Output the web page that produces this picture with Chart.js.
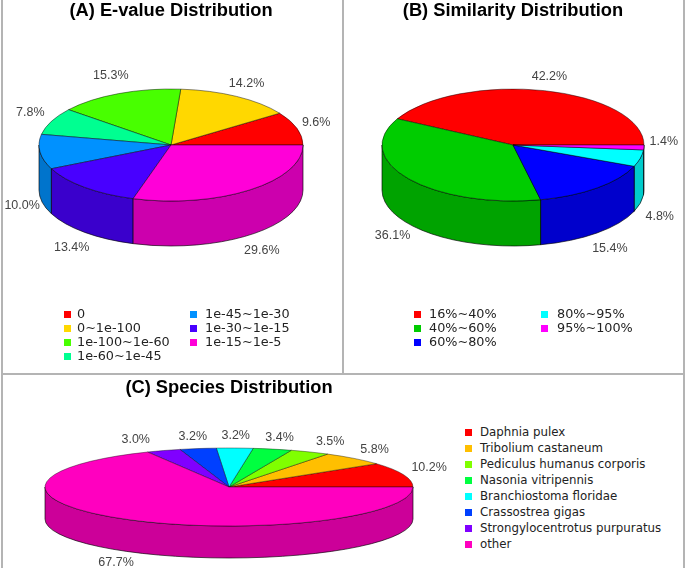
<!DOCTYPE html>
<html>
<head>
<meta charset="utf-8">
<script src="https://cdn.jsdelivr.net/npm/chart.js@4"></script>
<style>
  html, body { margin: 0; padding: 0; background: #fff; }
  #page { position: relative; width: 685px; height: 571px; overflow: hidden; font-family: "DejaVu Sans", sans-serif; }
  canvas { position: absolute; }
  .rule { position: absolute; background: #b4b4b4; }
  .key { position: absolute; white-space: nowrap; color: #222; line-height: 14px; }
  .swatch { position: absolute; width: 7px; height: 7px; }
</style>
</head>
<body>
<div id="page">
  <div class="rule" style="left:1px;top:0;width:2px;height:568px"></div>
  <div class="rule" style="left:342px;top:0;width:2px;height:373px"></div>
  <div class="rule" style="left:1px;top:373px;width:683px;height:2px"></div>
  <div class="rule" style="left:683px;top:0;width:2px;height:568px"></div>
  <canvas id="chartA" width="342" height="373" style="left:0;top:0"></canvas>
  <canvas id="chartB" width="342" height="373" style="left:342px;top:0"></canvas>
  <canvas id="chartC" width="458" height="198" style="left:0;top:373px"></canvas>
</div>
<script>
const evalueLabels = ['0', '0~1e-100', '1e-100~1e-60', '1e-60~1e-45', '1e-45~1e-30', '1e-30~1e-15', '1e-15~1e-5'];
const evalueValues = [9.6, 14.2, 15.3, 7.8, 10.0, 13.4, 29.6];
const evalueColors = ['#ff0000', '#ffd800', '#48ff00', '#00ff91', '#0091ff', '#4800ff', '#ff00d8'];

const similarityLabels = ['16%~40%', '40%~60%', '60%~80%', '80%~95%', '95%~100%'];
const similarityValues = [42.2, 36.1, 15.4, 4.8, 1.4];
const similarityColors = ['#ff0000', '#00cc00', '#0000ff', '#00ffff', '#ff00ff'];

const speciesLabels = ['Daphnia pulex', 'Tribolium castaneum', 'Pediculus humanus corporis', 'Nasonia vitripennis',
  'Branchiostoma floridae', 'Crassostrea gigas', 'Strongylocentrotus purpuratus', 'other'];
const speciesValues = [10.2, 5.8, 3.5, 3.4, 3.2, 3.2, 3.0, 67.7];
const speciesColors = ['#ff0000', '#ffbf00', '#80ff00', '#00ff40', '#00ffff', '#0040ff', '#8000ff', '#ff00bf'];

function darken(hex) {
  const n = parseInt(hex.slice(1), 16);
  const f = c => Math.round(c * 0.8);
  return `rgb(${f(n >> 16)}, ${f((n >> 8) & 255)}, ${f(n & 255)})`;
}

// squashes the flat pie into an ellipse and paints the side walls under it
const pie3d = {
  id: 'pie3d',
  beforeDatasetsDraw(chart, args, opts) {
    const ctx = chart.ctx;
    const arcs = chart.getDatasetMeta(0).data;
    const { cx, cy, ry, depth } = opts;
    const rx = arcs[0].outerRadius;
    const colors = chart.data.datasets[0].backgroundColor;

    // back to front: left side up to the slice at the bottom, then right side inwards
    const bottom = arcs.findIndex(a => a.endAngle > Math.PI * 1.5);
    const order = [];
    for (let i = 0; i < bottom; i++) order.push(i);
    for (let i = arcs.length - 1; i >= bottom; i--) order.push(i);

    ctx.save();
    ctx.lineWidth = 0.8;
    ctx.strokeStyle = 'rgba(0,0,0,0.8)';
    order.forEach(i => {
      const a = arcs[i];
      ctx.fillStyle = darken(colors[i]);
      if (a.startAngle > Math.PI * 1.5) {
        const px = cx + rx * Math.cos(a.startAngle);
        const py = cy - ry * Math.sin(a.startAngle);
        ctx.beginPath();
        ctx.moveTo(cx, cy);
        ctx.lineTo(px, py);
        ctx.lineTo(px, py + depth);
        ctx.lineTo(cx, cy + depth);
        ctx.closePath();
        ctx.fill();
        ctx.stroke();
      }
      const s = Math.max(a.startAngle, Math.PI);
      const e = Math.min(a.endAngle, Math.PI * 2);
      if (e > s) {
        ctx.beginPath();
        ctx.ellipse(cx, cy, rx, ry, 0, -s, -e, true);
        ctx.ellipse(cx, cy + depth, rx, ry, 0, -e, -s, false);
        ctx.closePath();
        ctx.fill();
        ctx.stroke();
      }
    });
    ctx.restore();

    ctx.save();
    ctx.translate(cx, cy);
    ctx.scale(1, -ry / rx);
    ctx.translate(-arcs[0].x, -arcs[0].y);
  },
  afterDatasetsDraw(chart, args, opts) {
    const ctx = chart.ctx;
    ctx.restore();

    const { cx, cy, ry, depth, padX, padY, nudge } = opts;
    const arcs = chart.getDatasetMeta(0).data;
    const values = chart.data.datasets[0].data;
    ctx.save();
    ctx.font = '12.5px "Liberation Sans", sans-serif';
    ctx.fillStyle = '#444';
    ctx.textAlign = 'center';
    ctx.textBaseline = 'middle';
    arcs.forEach((a, i) => {
      const mid = (a.startAngle + a.endAngle) / 2;
      const sin = Math.sin(mid);
      const n = nudge[i] || [0, 0];
      const x = cx + (a.outerRadius + padX) * Math.cos(mid) + n[0];
      const y = cy - (ry + padY) * sin + (sin < -0.1 ? depth : 0) + n[1];
      ctx.fillText(values[i].toFixed(1) + '%', x, y);
    });
    ctx.restore();
  }
};

function makePie(id, title, titleTop, labels, values, colors, rx, shape) {
  return new Chart(document.getElementById(id), {
    type: 'pie',
    plugins: [pie3d],
    data: {
      labels: labels,
      datasets: [{
        data: values,
        backgroundColor: colors,
        borderColor: 'rgba(0,0,0,0.8)',
        borderWidth: 0.8,
        radius: rx,
        clip: false
      }]
    },
    options: {
      responsive: false,
      animation: false,
      rotation: 90,
      plugins: {
        legend: { display: false },
        tooltip: { enabled: false },
        title: {
          display: true,
          text: title,
          color: '#000',
          font: { family: '"Liberation Sans", sans-serif', size: 18.3, weight: 'bold' },
          padding: { top: titleTop, bottom: 0 }
        },
        pie3d: shape
      }
    }
  });
}

makePie('chartA', '(A) E-value Distribution', 0, evalueLabels, evalueValues, evalueColors, 132,
  { cx: 171, cy: 145, ry: 56, depth: 45, padX: 20, padY: 20, nudge: { 1: [0, 4], 3: [-3, 0], 4: [2, 6] } });
makePie('chartB', '(B) Similarity Distribution', 0, similarityLabels, similarityValues, similarityColors, 131,
  { cx: 171, cy: 145, ry: 56, depth: 45, padX: 20, padY: 20, nudge: { 0: [0, 5], 3: [0, 9], 4: [0, -7] } });
makePie('chartC', '(C) Species Distribution', 4, speciesLabels, speciesValues, speciesColors, 184,
  { cx: 229, cy: 114, ry: 39, depth: 32, padX: 30, padY: 12, nudge: { 0: [-3, -3], 2: [7, 0], 6: [-17, 0] } });

// legends sit in columns, which the built in legend cannot do here
function addLegend(labels, colors, swatchX, textX, top, step, perColumn, fontSize) {
  const page = document.getElementById('page');
  labels.forEach((label, i) => {
    const col = Math.floor(i / perColumn);
    const y = top + (i % perColumn) * step;
    const sw = document.createElement('div');
    sw.className = 'swatch';
    sw.style.cssText = `left:${swatchX[col]}px;top:${y - 3}px;background:${colors[i]}`;
    page.appendChild(sw);
    const key = document.createElement('div');
    key.className = 'key';
    key.textContent = label;
    key.style.cssText = `left:${textX[col]}px;top:${y - 7}px;font-size:${fontSize}px`;
    page.appendChild(key);
  });
}
addLegend(evalueLabels, evalueColors, [64, 190], [77, 205], 314, 14, 4, 12.8);
addLegend(similarityLabels, similarityColors, [414, 541], [429, 557], 314, 14, 3, 12.8);
addLegend(speciesLabels, speciesColors, [465], [480], 432, 16, 8, 11.8);
</script>
</body>
</html>
